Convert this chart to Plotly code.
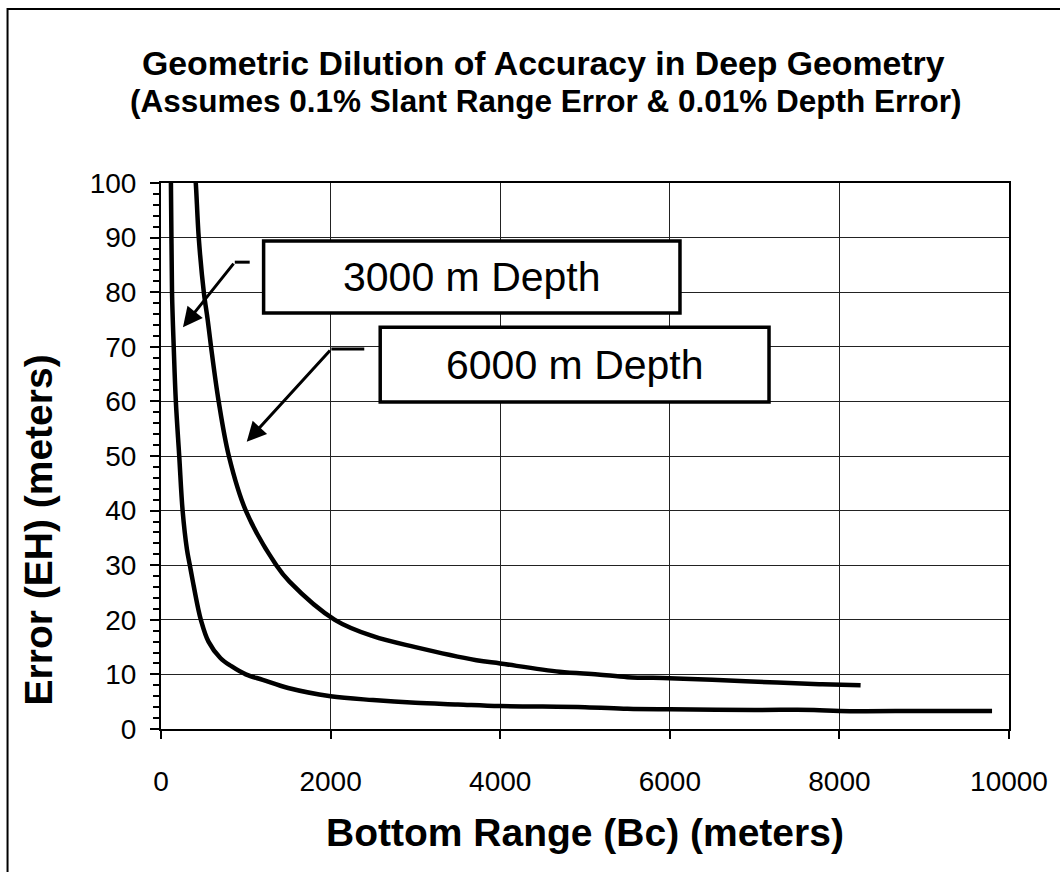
import plotly.graph_objects as go

# ---- data ----
b_3000 = [112, 117, 130, 150, 175, 215, 255, 305, 340, 376, 435, 470, 560, 700, 830, 1000,
          1200, 1500, 2000, 2500, 3000, 3500, 4000, 5000, 5500, 6000, 7000, 7700, 8000, 9000, 9800]
eh_3000 = [101.5, 100, 80, 70, 60, 50, 40, 33, 30, 27, 22.3, 20, 16, 13, 11.5, 10,
           9, 7.5, 6, 5.3, 4.8, 4.5, 4.2, 4.0, 3.7, 3.6, 3.5, 3.5, 3.3, 3.3, 3.3]

b_6000 = [400, 410, 445, 505, 550, 590, 680, 800, 1000, 1360, 1515, 2050, 2500, 3000, 3720,
          4000, 4700, 5150, 5500, 6000, 6500, 7270, 7800, 8250]
eh_6000 = [101.5, 100, 90, 80, 75, 70, 60, 50, 40, 30, 27, 20, 17, 15, 12.6,
           12, 10.5, 10, 9.5, 9.3, 9, 8.5, 8.2, 8.0]

x_ticks = [0, 2000, 4000, 6000, 8000, 10000]
y_ticks = [0, 10, 20, 30, 40, 50, 60, 70, 80, 90, 100]

title = "Geometric Dilution of Accuracy in Deep Geometry"
subtitle = "(Assumes 0.1% Slant Range Error & 0.01% Depth Error)"
x_title = "Bottom Range (Bc) (meters)"
y_title = "Error (EH) (meters)"
label_3000 = "3000 m Depth"
label_6000 = "6000 m Depth"

FONT = "Liberation Sans, Arial, Helvetica, sans-serif"

# plot-area pixel geometry
W, H = 1060, 872
L, R, T, B = 161, 1012, 183, 729
PW, PH = R - L, B - T


def px(xp):
    return (xp - L) / PW


def py(yp):
    return (B - yp) / PH


fig = go.Figure()
for bx, ey in [(b_3000, eh_3000), (b_6000, eh_6000)]:
    fig.add_trace(go.Scatter(x=bx, y=ey, mode="lines", line=dict(color="black", width=4.5),
                             line_shape="spline", cliponaxis=False, showlegend=False,
                             hoverinfo="skip"))

shapes = [
    # outer chart frame (only top and left visible)
    dict(type="rect", xref="paper", yref="paper", x0=px(7), x1=px(1075), y0=py(9), y1=py(900),
         line=dict(color="black", width=2), layer="below"),
    # annotation boxes
    dict(type="rect", xref="x", yref="y", x0=1210, x1=6120, y0=76.2, y1=89.4,
         line=dict(color="black", width=3.5), fillcolor="white", layer="above"),
    dict(type="rect", xref="x", yref="y", x0=2585, x1=7170, y0=59.9, y1=73.6,
         line=dict(color="black", width=3.5), fillcolor="white", layer="above"),
    # horizontal leader segments
    dict(type="line", xref="x", yref="y", x0=870, x1=1046, y0=85.5, y1=85.5,
         line=dict(color="black", width=3)),
    dict(type="line", xref="x", yref="y", x0=2009, x1=2397, y0=69.6, y1=69.6,
         line=dict(color="black", width=3)),
]

annotations = [
    dict(text=f"<b>{title}</b>", xref="paper", yref="paper", x=px(545), y=py(63),
         showarrow=False, font=dict(size=33.8, family=FONT, color="black"), xanchor="center", yanchor="middle"),
    dict(text=f"<b>{subtitle}</b>", xref="paper", yref="paper", x=px(547), y=py(101),
         showarrow=False, font=dict(size=31.5, family=FONT, color="black"), xanchor="center", yanchor="middle"),
    dict(text=f"<b>{y_title}</b>", xref="paper", yref="paper", x=px(38), y=py(530), textangle=-90,
         showarrow=False, font=dict(size=39, family=FONT, color="black"), xanchor="center", yanchor="middle"),
    dict(text=f"<b>{x_title}</b>", xref="paper", yref="paper", x=px(587), y=py(832),
         showarrow=False, font=dict(size=39, family=FONT, color="black"), xanchor="center", yanchor="middle"),
    dict(text=label_3000, xref="x", yref="y", x=(1210 + 6120) / 2, y=(76.2 + 89.4) / 2,
         showarrow=False, font=dict(size=41, family=FONT, color="black")),
    dict(text=label_6000, xref="x", yref="y", x=(2585 + 7170) / 2, y=(59.9 + 73.6) / 2,
         showarrow=False, font=dict(size=41, family=FONT, color="black")),
    # arrows
    dict(x=259, y=73.6, ax=870, ay=85.5, xref="x", yref="y", axref="x", ayref="y", text="",
         showarrow=True, arrowhead=2, arrowsize=1.3, arrowwidth=3, arrowcolor="black", standoff=0),
    dict(x=1011, y=52.6, ax=2009, ay=69.6, xref="x", yref="y", axref="x", ayref="y", text="",
         showarrow=True, arrowhead=2, arrowsize=1.3, arrowwidth=3, arrowcolor="black", standoff=0),
]

fig.update_layout(
    width=W, height=H,
    margin=dict(l=L, r=W - R, t=T, b=H - B, pad=0),
    paper_bgcolor="white", plot_bgcolor="white",
    font=dict(family=FONT, color="black", size=28),
    shapes=shapes, annotations=annotations,
    showlegend=False,
)
fig.update_xaxes(range=[0, 10000], tickvals=x_ticks, ticktext=[str(v) for v in x_ticks],
                 showgrid=True, gridcolor="#222", gridwidth=1, zeroline=False,
                 showline=True, linecolor="black", linewidth=2, mirror=True,
                 ticks="outside", ticklen=8, tickwidth=1.5, tickcolor="black",
                 tickfont=dict(size=28), ticklabelstandoff=18)
fig.update_yaxes(range=[0, 100], tickvals=y_ticks, ticktext=[str(v) for v in y_ticks],
                 showgrid=True, gridcolor="#222", gridwidth=1, zeroline=False,
                 showline=True, linecolor="black", linewidth=2, mirror=True,
                 ticks="outside", ticklen=9, tickwidth=1.5, tickcolor="black",
                 minor=dict(dtick=2, ticks="outside", ticklen=6, tickcolor="black", showgrid=False),
                 tickfont=dict(size=28), ticklabelstandoff=8)

fig.write_html("out.html", config={"displayModeBar": False},
               post_script="document.body.style.margin='0';")
